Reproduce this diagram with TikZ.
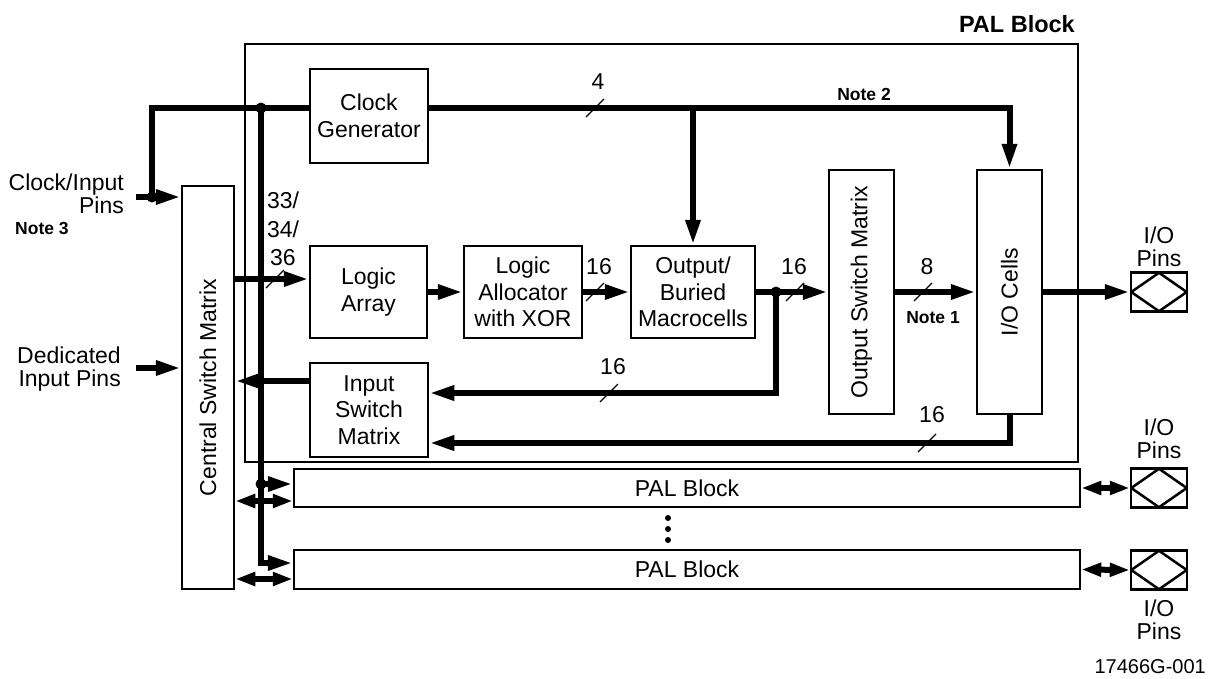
\documentclass[tikz,border=0pt]{standalone}
\usepackage{fontspec}
\setmainfont{Liberation Sans}
\usetikzlibrary{arrows.meta,calc}
\begin{document}
\begin{tikzpicture}[x=1pt,y=-1pt,
  box/.style={draw,line width=2.5pt,inner sep=0pt,align=center,font=\fontsize{23}{26.5}\selectfont},
  frame/.style={draw,line width=2pt,inner sep=0pt},
  bus/.style={line width=6pt},
  ar/.style={-{Triangle[length=25pt,width=14pt]}},
  dar/.style={{Triangle[length=20pt,width=13pt]}-{Triangle[length=20pt,width=13pt]}},
  sl/.style={line width=1.2pt},
  lbl/.style={font=\fontsize{23}{26.5}\selectfont,inner sep=0pt},
  ext/.style={font=\fontsize{23}{23}\selectfont,inner sep=0pt},
  note/.style={font=\bfseries\fontsize{17.5}{20}\selectfont,inner sep=0pt},
  dot/.style={circle,fill,inner sep=0pt,minimum size=11pt},
  sdot/.style={circle,fill,inner sep=0pt,minimum size=6pt},
  pin/.style={draw,line width=2.5pt,inner sep=0pt,minimum width=56pt,minimum height=39pt}]
\useasboundingbox (0,0) rectangle (1213,678);

% PAL block frame
\node[frame,minimum width=833pt,minimum height=418pt] (pal) at (661.5,253) {};
\node[note,font=\bfseries\fontsize{23.5}{26}\selectfont,anchor=east] (paltitle) at (1075,24) {PAL Block};

% boxes
\node[box,minimum width=118pt,minimum height=94pt] (cg) at (369,116) {Clock\\Generator};
\node[box,minimum width=117pt,minimum height=92pt] (la) at (368.5,292) {Logic\\Array};
\node[box,minimum width=118pt,minimum height=92pt] (alloc) at (523,292) {Logic\\Allocator\\with XOR};
\node[box,minimum width=124pt,minimum height=92pt] (obm) at (693,292) {Output/\\Buried\\Macrocells};
\node[box,minimum width=118pt,minimum height=94pt] (ism) at (369,410) {Input\\Switch\\Matrix};
\node[box,minimum width=65pt,minimum height=244pt,label={[lbl,rotate=90]center:Output Switch Matrix}] (osm) at (861.5,292) {};
\node[box,minimum width=65pt,minimum height=244pt,label={[lbl,rotate=90]center:I/O Cells}] (ioc) at (1009.5,292) {};
\node[box,minimum width=52pt,minimum height=403pt,label={[lbl,rotate=90]center:Central Switch Matrix}] (csm) at (208,387.5) {};
\node[box,minimum width=786pt,minimum height=38pt] (s1) at (687,488) {PAL Block};
\node[box,minimum width=786pt,minimum height=39pt] (s2) at (687,569.5) {PAL Block};

% pins
\node[pin] (p1) at (1159,292) {};
\node[pin] (p2) at (1159,488) {};
\node[pin] (p3) at (1159,570) {};
\foreach \p in {p1,p2,p3}{
  \draw[line width=2.5pt,line join=round] ([xshift=1.5pt]\p.west) -- ([yshift=-1.5pt]\p.north) -- ([xshift=-1.5pt]\p.east) -- ([yshift=1.5pt]\p.south) -- cycle;
}
\node[ext,align=center] (p1l) at (1159,246.5) {I/O\\Pins};
\node[ext,align=center] (p2l) at (1159,438.5) {I/O\\Pins};
\node[ext,align=center] (p3l) at (1159,620) {I/O\\Pins};

% external labels
\node[ext,align=right,anchor=east] (cil) at (124,194) {Clock/Input\\Pins};
\node[note,anchor=west] (n3) at (15,228) {Note 3};
\node[ext,align=right,anchor=east] (dil) at (121,369) {Dedicated\\Input Pins};
\node[font=\fontsize{20}{23}\selectfont,inner sep=0pt,anchor=east] (fig) at (1206,667) {17466G-001};

% coordinates
\coordinate (ci) at (136,197);
\coordinate (j1) at (152,197);
\coordinate (j2) at (261,108);
\coordinate (j3) at (261,484);
\coordinate (b2) at (261,563);
\coordinate (j4) at (776,292);
\coordinate (fb) at (776,393);
\coordinate (di) at (136,368);
\coordinate (lain) at ([yshift=13pt]la.west);
\coordinate (fb2) at ([yshift=-33pt]ism.east);
\coordinate (ismo) at ([yshift=29pt]ism.west);
\coordinate (d1) at (0,501);
\coordinate (d2) at (0,579);

% connectors
\draw[bus,ar] (ci) -- (ci -| csm.west);
\draw[bus] (j1) -- (j1 |- j2) -- (cg.west |- j2);
\draw[bus,ar] (cg.east |- j2) -| (ioc.north);
\draw[bus,ar] (obm.north |- j2) -- (obm.north);
\draw[bus,ar] (j2) -- (b2) -- (b2 -| s2.west);
\draw[bus,ar] (j3) -- (j3 -| s1.west);
\draw[bus,ar] (lain -| csm.east) -- (lain);
\draw[bus,ar] (la.east) -- (alloc.west);
\draw[bus,ar] (alloc.east) -- (obm.west);
\draw[bus,ar] (obm.east) -- (osm.west);
\draw[bus,ar] (osm.east) -- (ioc.west);
\draw[bus,ar] (ioc.east) -- (p1.west);
\draw[bus,ar] (j4) -- (fb) -- (fb -| ism.east);
\draw[bus,ar] (ioc.south) |- (fb2);
\draw[bus,ar] (ismo) -- (ismo -| csm.east);
\draw[bus,ar] (di) -- (di -| csm.west);
\draw[bus,dar] (d1 -| csm.east) -- (d1 -| s1.west);
\draw[bus,dar] (d2 -| csm.east) -- (d2 -| s2.west);
\draw[bus,dar] (s1.east) -- (p2.west);
\draw[bus,dar] (s2.east) -- (p3.west);

% junction dots
\foreach \j in {j1,j2,j3,j4} \node[dot] at (\j) {};
\node[sdot] (v1) at (668,518) {};
\node[sdot] (v2) at (668,529) {};
\node[sdot] (v3) at (668,540) {};

% bus width slashes and labels
\foreach \x/\y in {595/108,275/279,595/292,795/292,923/292,609/393,927/443}
  \draw[sl] (\x-9,\y+9) -- (\x+9,\y-9);
\node[lbl] (w4) at (598,82) {4};
\node[note] (n2) at (864,94) {Note 2};
\node[lbl,align=center,font=\fontsize{23}{28.5}\selectfont] (w33) at (283,229) {33/\\34/\\36};
\node[lbl] (w16a) at (599,267) {16};
\node[lbl] (w16b) at (794,267) {16};
\node[lbl] (w8) at (927,267) {8};
\node[note] (n1) at (933,318) {Note 1};
\node[lbl] (w16c) at (613,367) {16};
\node[lbl] (w16d) at (932,415) {16};
\end{tikzpicture}
\end{document}
